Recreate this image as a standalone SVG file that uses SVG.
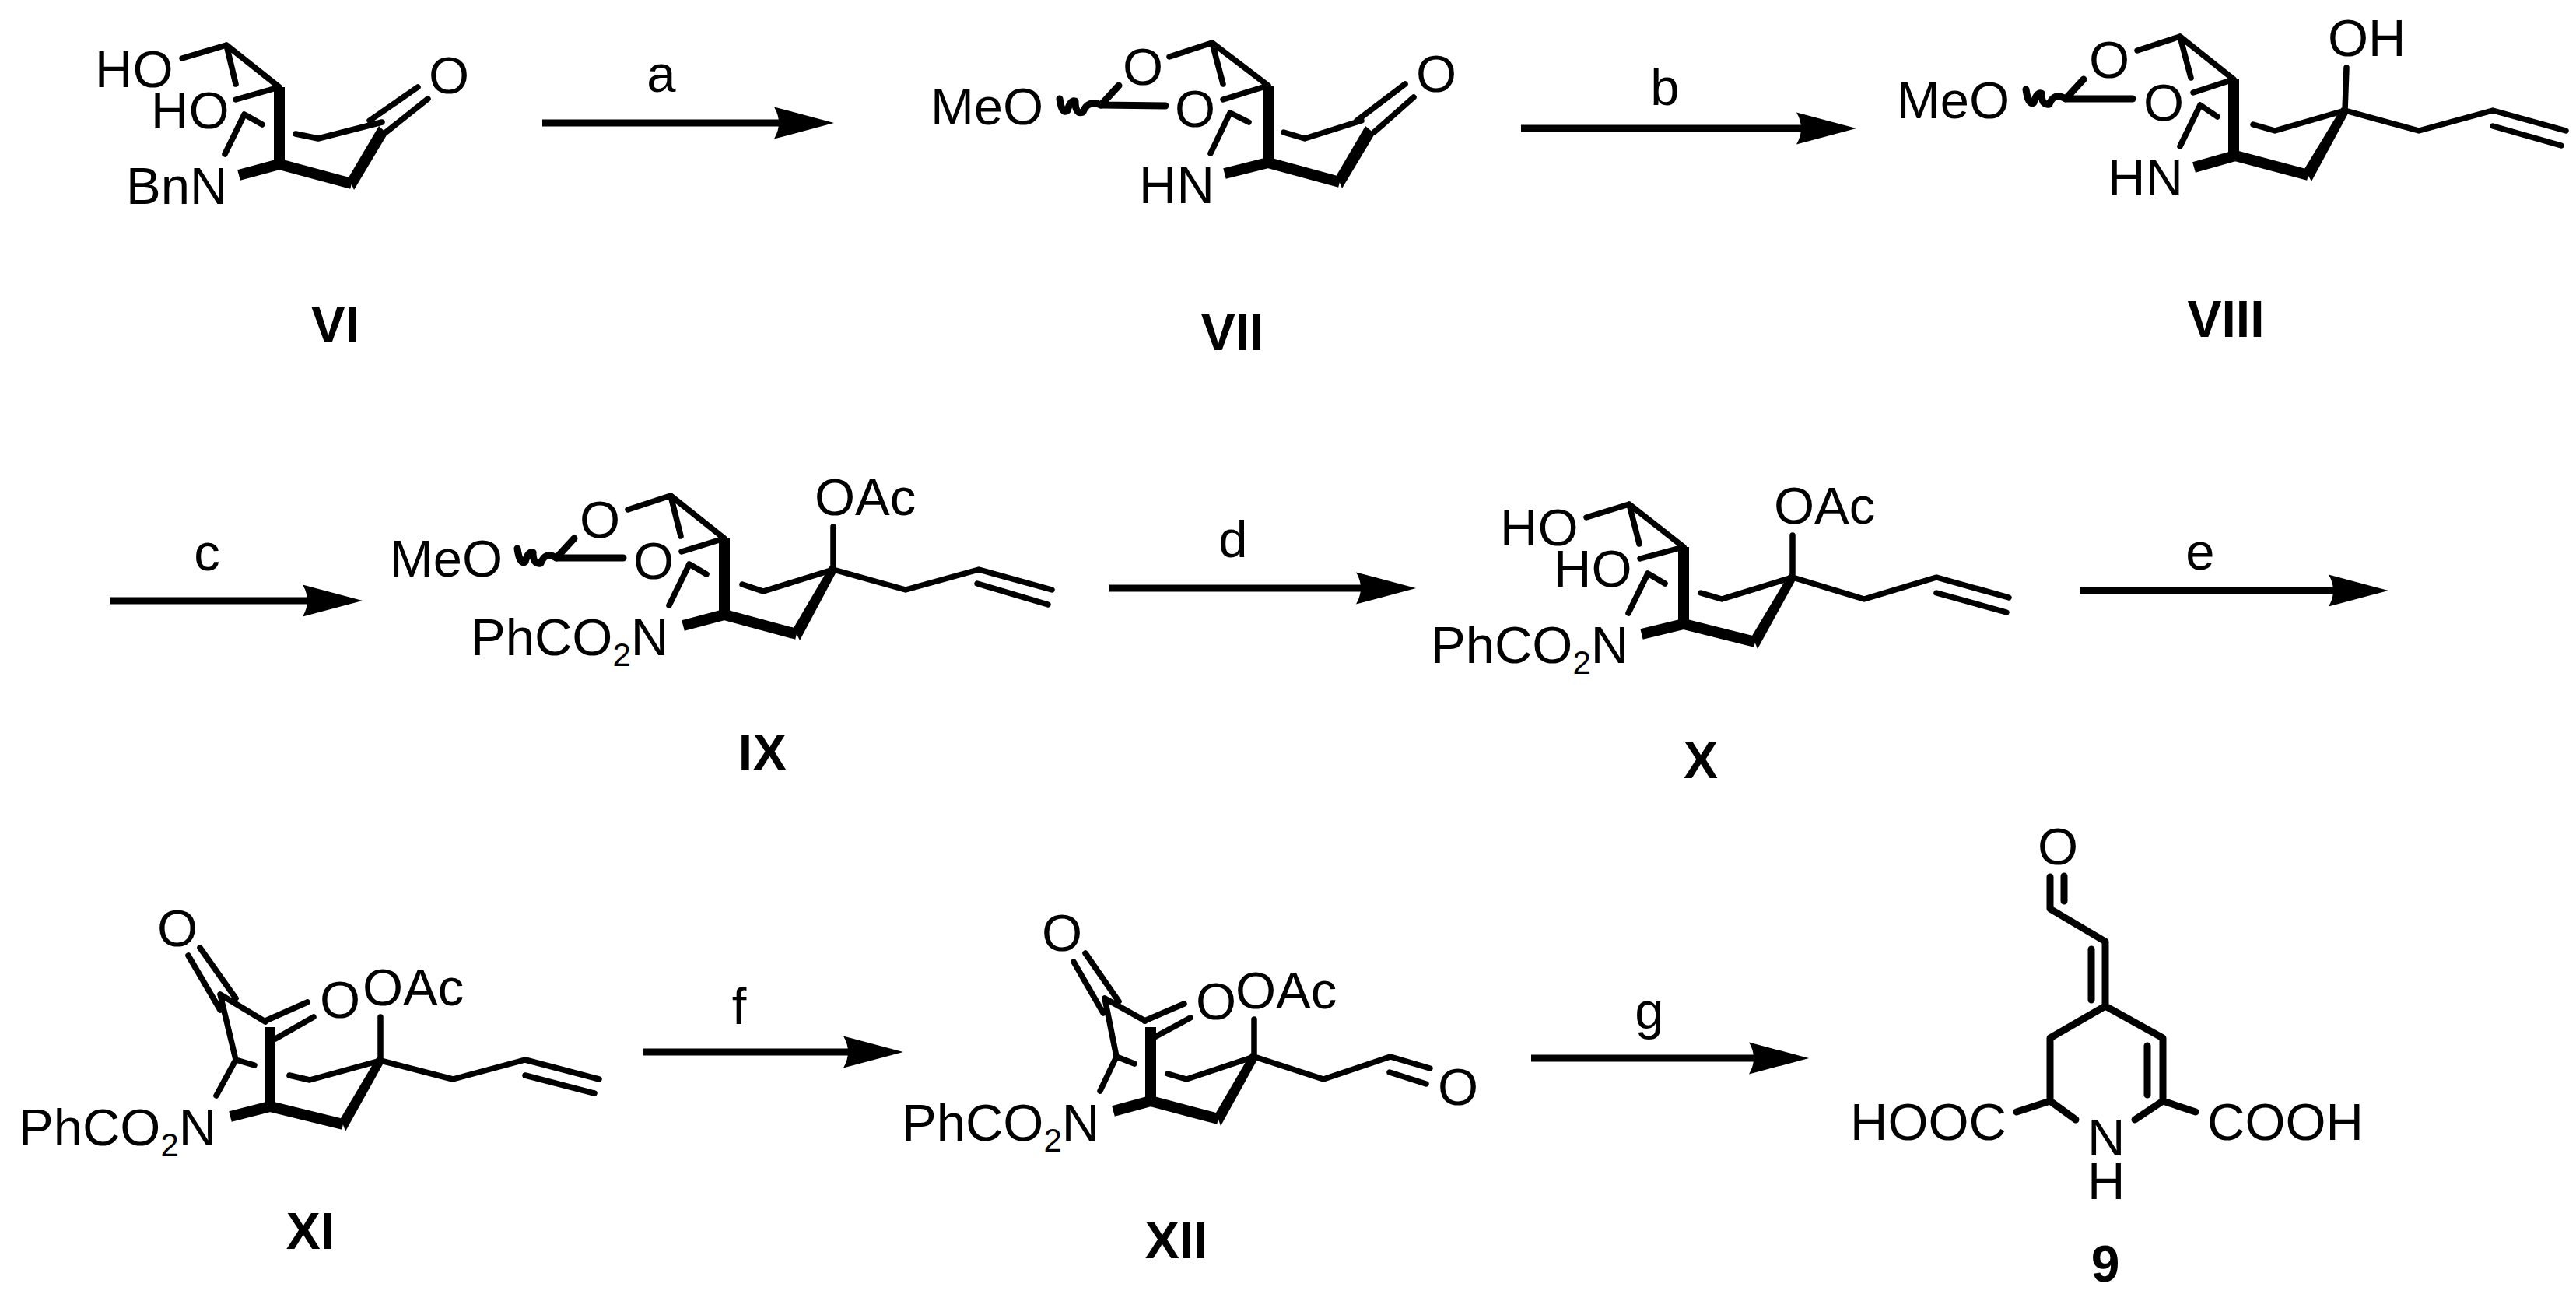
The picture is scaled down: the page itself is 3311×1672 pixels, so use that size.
<svg xmlns="http://www.w3.org/2000/svg" width="3311" height="1672" viewBox="0 0 3311 1672">
<defs>
<marker id="ah" markerUnits="userSpaceOnUse" markerWidth="80" markerHeight="44" refX="47" refY="21" orient="auto"><path class="h" d="M0 0.5 L77 21 L0 41.5 Q12 21 0 0.5 Z"/></marker>
</defs>
<style>
text{font-family:"Liberation Sans",Arial,sans-serif;font-size:67px;fill:#000}
.b{font-weight:bold;font-size:66px;text-anchor:middle}
.r{font-size:67px;text-anchor:middle}
.s{font-size:42px}
path,line{fill:none;stroke:#000;stroke-linecap:round;stroke-linejoin:round}
.h{fill:#000;stroke:none}
.t{stroke-width:7.5}
.m{stroke-width:9}
.k{stroke-width:14;stroke-linecap:butt;stroke-linejoin:miter}
.a{stroke-width:9;stroke-linecap:butt}
</style>
<rect width="3311" height="1672" fill="#fff"/>
<g id="connectors">
<line class="a" x1="697" y1="158" x2="1042" y2="158" marker-end="url(#ah)"/>
<line class="a" x1="1955" y1="165" x2="2356" y2="165" marker-end="url(#ah)"/>
<line class="a" x1="141" y1="772" x2="436" y2="772" marker-end="url(#ah)"/>
<line class="a" x1="1425" y1="756" x2="1790" y2="756" marker-end="url(#ah)"/>
<line class="a" x1="2673" y1="759" x2="3040" y2="759" marker-end="url(#ah)"/>
<line class="a" x1="827" y1="1352" x2="1131" y2="1352" marker-end="url(#ah)"/>
<line class="a" x1="1968" y1="1360" x2="2295" y2="1360" marker-end="url(#ah)"/>
<text class="r" x="850" y="118">a</text>
<text class="r" x="2140" y="135">b</text>
<text class="r" x="266" y="733">c</text>
<text class="r" x="1585" y="716">d</text>
<text class="r" x="2828" y="732">e</text>
<text class="r" x="950" y="1316">f</text>
<text class="r" x="2120" y="1322">g</text>
</g>
<g id="VI">
<path class="t" d="M234 75 L291 58 L303 108 M291 58 L359 112 L303 128"/>
<path class="t" d="M289 198 L314 147 L337 160"/>
<path class="k" d="M359 112 V212"/>
<path class="k" d="M307 225 L359 211 L452 236"/>
<polygon points="448,228 455,244 498,172 487,162" fill="#000"/>
<path class="t" d="M380 172 L409 178 L491 157 M475 155 L537 112 M496 170 L550 127"/>
<text x="122" y="112">HO</text><text x="194" y="165">HO</text><text x="162" y="262">BnN</text><text x="551" y="120">O</text>
<text class="b" x="431" y="440">VI</text>
</g>
<g id="VII">
<path class="t" d="M1503 73 L1558 55 L1572 108 M1558 55 L1630 110 L1572 128"/>
<path class="t" d="M1556 197 L1581 145 L1605 157"/>
<path class="k" d="M1630 110 V210"/>
<path class="k" d="M1574 223 L1630 209 L1722 234"/>
<polygon points="1718,225 1725,242 1767,172 1755,162" fill="#000"/>
<path class="t" d="M1650 170 L1677 178 L1750 155 M1744 155 L1806 108 M1766 170 L1817 125"/>
<path class="m" d="M1438 110 L1415 135 L1498 136"/>
<path class="m" d="M1362 127 Q1365 148 1372 142 Q1376 128 1382 130 Q1382 148 1392 144 Q1398 128 1415 135"/>
<text x="1196" y="160">MeO</text><text x="1443" y="109">O</text><text x="1510" y="163">O</text><text x="1464" y="261">HN</text><text x="1820" y="118">O</text>
<text class="b" x="1584" y="450">VII</text>
</g>
<g id="VIII">
<path class="t" d="M2747 65 L2802 47 L2816 100 M2802 47 L2871 102 L2819 119"/>
<path class="t" d="M2802 188 L2828 135 L2850 150"/>
<path class="k" d="M2871 102 V201"/>
<path class="k" d="M2820 215 L2873 200 L2967 225"/>
<polygon points="2962,217 2971,233 3018,146 3010,138" fill="#000"/>
<path class="t" d="M2896 160 L2924 168 L3014 142 L3016 87 M3014 142 L3109 168 L3204 142 L3298 168 M3204 162 L3292 187"/>
<path class="m" d="M2678 102 L2655 127 L2741 127"/>
<path class="m" d="M2604 115 Q2607 136 2614 132 Q2618 118 2624 120 Q2624 136 2634 134 Q2640 118 2655 127"/>
<text x="2438" y="152">MeO</text><text x="2685" y="100">O</text><text x="2755" y="155">O</text><text x="2709" y="251">HN</text><text x="2992" y="72">OH</text>
<text class="b" x="2861" y="433">VIII</text>
</g>
<g id="IX">
<path class="t" d="M807 655 L862 637 L875 689 M862 637 L931 692 L876 709"/>
<path class="t" d="M860 778 L886 725 L908 738"/>
<path class="k" d="M931 692 V791"/>
<path class="k" d="M878 804 L931 790 L1024 815"/>
<polygon points="1020,807 1028,823 1075,735 1067,727" fill="#000"/>
<path class="t" d="M954 751 L981 760 L1071 732 L1071 677 M1071 732 L1164 758 L1258 732 L1352 758 M1256 750 L1347 777"/>
<path class="m" d="M738 692 L715 717 L801 717"/>
<path class="m" d="M665 705 Q668 726 675 722 Q679 708 685 710 Q685 726 695 724 Q701 708 715 717"/>
<text x="501" y="741">MeO</text><text x="745" y="691">O</text><text x="814" y="744">O</text>
<text x="605" y="842">PhCO<tspan class="s" dy="14">2</tspan><tspan dy="-14">N</tspan></text><text x="1047" y="662">OAc</text>
<text class="b" x="980" y="990">IX</text>
</g>
<g id="X">
<path class="t" d="M2039 665 L2094 648 L2107 699 M2094 648 L2164 703 L2108 718"/>
<path class="t" d="M2093 788 L2118 737 L2140 750"/>
<path class="k" d="M2164 703 V803"/>
<path class="k" d="M2110 815 L2164 802 L2256 825"/>
<polygon points="2252,817 2259,834 2308,745 2300,737" fill="#000"/>
<path class="t" d="M2186 762 L2213 770 L2304 742 L2304 688 M2304 742 L2396 770 L2489 742 L2582 768 M2489 762 L2579 787"/>
<text x="1928" y="701">HO</text><text x="1997" y="754">HO</text>
<text x="1839" y="852">PhCO<tspan class="s" dy="14">2</tspan><tspan dy="-14">N</tspan></text><text x="2280" y="673">OAc</text>
<text class="b" x="2186" y="1000">X</text>
</g>
<g id="XI">
<path class="t" d="M242 1228 L283 1298 M257 1218 L303 1283 M283 1278 L303 1362 L278 1408 M303 1362 L327 1369 M283 1278 L341 1313"/>
<path class="k" d="M347 1320 V1423"/>
<path class="k" d="M296 1435 L347 1422 L441 1445"/>
<polygon points="438,1437 444,1454 493,1366 485,1358" fill="#000"/>
<path class="t" d="M341 1312 L395 1288 M354 1335 L403 1307 M372 1382 L398 1388 L489 1363 L489 1307 M489 1363 L582 1387 L675 1362 L770 1387 M675 1382 L764 1405"/>
<text x="202" y="1216">O</text><text x="411" y="1308">O</text><text x="466" y="1292">OAc</text>
<text x="24" y="1472">PhCO<tspan class="s" dy="14">2</tspan><tspan dy="-14">N</tspan></text>
<text class="b" x="399" y="1605">XI</text>
</g>
<g id="XII">
<path class="t" d="M1380 1236 L1418 1302 M1395 1225 L1438 1287 M1420 1283 L1435 1358 L1414 1402 M1435 1358 L1458 1367 M1420 1283 L1472 1312"/>
<path class="k" d="M1479 1320 V1416"/>
<path class="k" d="M1431 1428 L1479 1415 L1566 1438"/>
<polygon points="1563,1430 1569,1447 1616,1362 1608,1353" fill="#000"/>
<path class="t" d="M1471 1312 L1522 1290 M1484 1333 L1530 1308 M1501 1380 L1525 1387 L1612 1358 L1612 1310 M1612 1358 L1701 1387 L1787 1358 L1838 1373 M1786 1378 L1833 1393"/>
<text x="1339" y="1222">O</text><text x="1537" y="1310">O</text><text x="1588" y="1296">OAc</text>
<text x="1159" y="1466">PhCO<tspan class="s" dy="14">2</tspan><tspan dy="-14">N</tspan></text><text x="1848" y="1420">O</text>
<text class="b" x="1512" y="1617">XII</text>
</g>
<g id="c9">
<path class="m" d="M2635 1127 V1168 L2706 1210 V1293 L2635 1334 V1415 L2668 1439 M2635 1415 L2592 1429 M2706 1293 L2780 1334 V1415 L2744 1439 M2780 1415 L2822 1429 M2653 1126 V1158 M2688 1220 V1285 M2760 1344 V1407"/>
<text x="2619" y="1111">O</text><text x="2378" y="1465">HOOC</text><text x="2837" y="1465">COOH</text><text x="2683" y="1485">N<tspan x="2683" dy="56">H</tspan></text>
<text class="b" x="2706" y="1647">9</text>
</g>
</svg>
